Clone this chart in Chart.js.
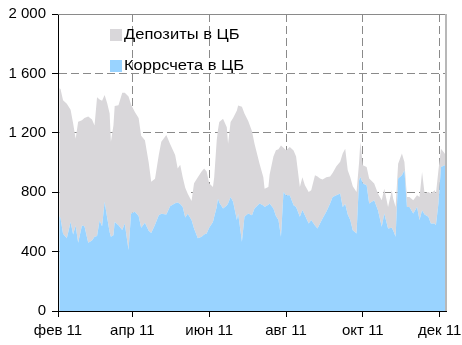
<!DOCTYPE html>
<html>
<head>
<meta charset="utf-8">
<script src="https://cdn.jsdelivr.net/npm/chart.js@4.4.0/dist/chart.umd.min.js"></script>
<style>
	html, body { margin: 0; padding: 0; background: #fff; }
	#wrap { width: 462px; height: 345px; }
</style>
</head>
<body>
<div id="wrap"><canvas id="chart" width="462" height="345"></canvas></div>
<script>
// daily balances, bln rub (2011)
var dates = ['02.02','03.02','05.02','08.02','11.02','13.02','15.02','17.02','20.02','22.02','25.02','28.02',
	'02.03','04.03','06.03','08.03','10.03','12.03','14.03','15.03','17.03','18.03','21.03','24.03','26.03','29.03','31.03',
	'03.04','06.04','08.04','11.04','14.04','16.04','19.04','22.04','24.04','28.04',
	'01.05','05.05','07.05','09.05','11.05','13.05','15.05','18.05','20.05','23.05','26.05','28.05','30.05',
	'01.06','04.06','05.06','07.06','08.06','09.06','12.06','15.06','16.06','18.06','20.06','23.06','24.06','27.06','29.06',
	'02.07','05.07','07.07','11.07','14.07','15.07','18.07','19.07','22.07','24.07','26.07','28.07','30.07',
	'01.08','04.08','07.08','09.08','12.08','14.08','16.08','19.08','21.08','24.08','26.08','28.08','30.08',
	'02.09','05.09','07.09','10.09','13.09','15.09','17.09','19.09','21.09','23.09','26.09','28.09','29.09',
	'01.10','04.10','06.10','10.10','13.10','16.10','18.10','21.10','24.10','25.10','27.10','29.10',
	'01.11','03.11','05.11','07.11','10.11','13.11','15.11','17.11','19.11','22.11','24.11','27.11','28.11','30.11',
	'02.12','05.12','06.12'];

var corrAccounts = [640,625,520,490,600,515,575,460,575,570,460,475,
	500,505,610,570,735,630,530,500,510,600,578,545,590,410,657,
	668,640,560,595,540,525,580,645,655,650,
	705,725,730,720,700,630,655,612,556,490,500,515,522,
	560,600,634,700,757,730,690,710,724,768,735,612,657,466,634,
	657,645,690,724,710,701,715,724,690,640,612,500,802,
	780,780,712,701,634,680,645,590,612,575,556,590,623,
	668,724,768,780,791,701,720,650,612,544,522,880,903,
	858,847,724,746,679,567,657,556,560,544,500,892,
	914,947,701,701,657,701,612,679,650,634,590,590,578,724,
	970,981,975];

var deposits = [860,870,900,905,755,750,585,815,710,730,850,815,
	750,935,815,845,720,770,800,640,740,780,807,925,880,1035,733,
	672,660,620,555,460,345,310,405,485,535,
	420,325,230,265,200,200,135,128,304,410,440,445,418,
	300,235,266,450,463,542,605,528,403,504,565,738,727,909,696,
	623,565,437,268,190,123,120,196,350,442,478,615,298,
	302,325,368,339,201,220,202,212,201,339,349,302,262,
	232,181,162,195,214,359,373,297,288,296,280,120,235,
	123,123,168,112,112,179,167,145,253,216,201,100,
	146,57,67,67,89,79,156,257,141,168,201,223,212,223,
	123,79,55];

var monthTicks = ['01.02','01.04','01.06','01.08','01.10','01.12'];
var monthLabels = ['фев 11','апр 11','июн 11','авг 11','окт 11','дек 11'];
var yTicks = [0, 400, 800, 1200, 1600, 2000];

var FONT = '"Liberation Sans", Arial, sans-serif';

// days since 1 Feb 2011
function dayOf(s) {
	var p = s.split('.');
	return (Date.UTC(2011, +p[1] - 1, +p[0]) - Date.UTC(2011, 1, 1)) / 86400000;
}
function points(values) {
	return values.map(function(v, i) { return {x: dayOf(dates[i]), y: v}; });
}
function spaced(v) {
	return String(v).replace(/\B(?=(\d{3})+(?!\d))/g, ' ');
}

var insideLegend = {
	id: 'insideLegend',
	afterDraw: function(chart) {
		var ctx = chart.ctx, area = chart.chartArea;
		ctx.save();
		// frame on top and right side
		ctx.lineWidth = 1;
		ctx.strokeStyle = '#8a8a8a';
		ctx.beginPath();
		ctx.moveTo(area.left, area.top + 0.5);
		ctx.lineTo(area.right, area.top + 0.5);
		ctx.stroke();
		ctx.lineWidth = 2;
		ctx.strokeStyle = '#b8b8b8';
		ctx.beginPath();
		ctx.moveTo(area.right, area.top);
		ctx.lineTo(area.right, area.bottom);
		ctx.stroke();

		var items = chart.data.datasets.slice().reverse();
		ctx.font = '14px ' + FONT;
		ctx.textBaseline = 'middle';
		items.forEach(function(ds, i) {
			var y = area.top + 21 + i * 31;
			ctx.fillStyle = ds.backgroundColor;
			ctx.fillRect(area.left + 52, y - 6, 12, 12);
			ctx.fillStyle = '#000';
			// wide-set legend text
			ctx.save();
			ctx.translate(area.left + 66, y);
			ctx.scale(1.18, 1);
			ctx.fillText(ds.label, 0, 0);
			ctx.restore();
		});
		ctx.restore();
	}
};

var ctx = document.getElementById('chart').getContext('2d');
var chart = new Chart(ctx, {
	type: 'line',
	data: {
		datasets: [{
			label: 'Коррсчета в ЦБ',
			data: points(corrAccounts),
			backgroundColor: '#99D3FF',
			borderColor: 'rgba(0,0,0,0)',
			borderWidth: 0,
			pointRadius: 0,
			fill: 'origin'
		}, {
			label: 'Депозиты в ЦБ',
			data: points(deposits),
			backgroundColor: '#D9D7DA',
			borderColor: 'rgba(0,0,0,0)',
			borderWidth: 0,
			pointRadius: 0,
			fill: '-1'
		}]
	},
	options: {
		responsive: false,
		animation: false,
		devicePixelRatio: 1,
		layout: {padding: {top: 14, right: 16, left: 0, bottom: 0}},
		plugins: {legend: {display: false}, tooltip: {enabled: false}},
		elements: {line: {tension: 0}},
		scales: {
			x: {
				type: 'linear',
				min: 0,
				max: 308,
				afterBuildTicks: function(axis) {
					axis.ticks = monthTicks.map(function(m) { return {value: dayOf(m)}; });
				},
				afterFit: function(scale) {
					scale.height = 34;
					scale.paddingLeft = 0;
					scale.paddingRight = 0;
				},
				ticks: {
					autoSkip: false,
					maxRotation: 0,
					padding: 5,
					color: '#000',
					font: {family: FONT, size: 15},
					callback: function(v, i) { return monthLabels[i]; }
				},
				grid: {color: '#8a8a8a', tickColor: '#000', tickLength: 6, tickBorderDash: []},
				border: {display: true, color: '#000', width: 1, dash: [8, 4]}
			},
			y: {
				stacked: true,
				min: 0,
				max: 2000,
				afterBuildTicks: function(axis) {
					axis.ticks = yTicks.map(function(v) { return {value: v}; });
				},
				afterFit: function(scale) {
					scale.width = 58;
					scale.paddingTop = 0;
					scale.paddingBottom = 0;
				},
				ticks: {
					padding: 6,
					color: '#000',
					font: {family: FONT, size: 15},
					callback: function(v) { return spaced(v); }
				},
				grid: {color: '#8a8a8a', tickColor: '#000', tickLength: 6, tickBorderDash: []},
				border: {display: true, color: '#000', width: 1, dash: [8, 4]}
			}
		}
	},
	plugins: [insideLegend]
});
</script>
</body>
</html>
